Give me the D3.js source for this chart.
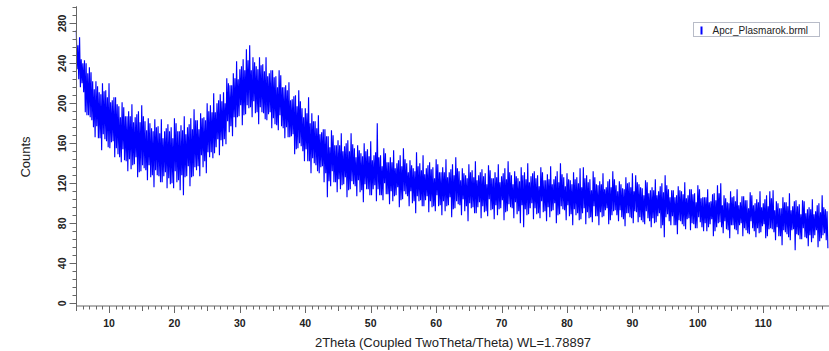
<!DOCTYPE html>
<html>
<head>
<meta charset="utf-8">
<script src="https://cdn.jsdelivr.net/npm/d3@7"></script>
<style>
  body { margin: 0; background: #fff; }
  svg text { font-family: Arial, "Liberation Sans", sans-serif; }
</style>
</head>
<body>
<div id="scan"></div>
<script>
// diffraction scan, 2theta from 5 deg in 0.5 deg steps.
// every step is split in two quarter-degree halves (A, B), each with its max and min counts
var startAngle = 5
var stepAngle = 0.5

var highA = [
  273,266,240,240,236,222,222,211,220,213,
  220,203,206,197,201,187,192,199,186,192,
  198,182,185,175,184,177,184,172,179,176,
  185,172,178,187,176,185,194,183,190,186,
  200,198,210,200,209,211,225,218,230,242,
  234,244,254,258,246,237,246,239,246,230,
  233,227,233,216,218,221,204,208,213,195,
  195,206,190,182,188,171,174,167,173,158,
  163,170,157,163,170,155,158,150,160,154,
  162,148,180,148,155,141,146,153,140,148,
  155,140,143,135,151,140,148,135,141,136,
  144,131,136,144,131,139,146,132,135,128,
  139,133,142,128,134,130,138,125,131,139,
  127,135,142,128,132,125,136,131,140,127,
  132,128,136,123,129,137,124,132,140,126,
  130,123,131,126,135,136,128,124,132,119,
  122,130,116,124,132,118,122,115,126,121,
  130,128,119,115,123,110,116,124,112,120,
  128,114,113,106,117,112,121,108,114,110,
  118,105,106,114,102,110,118,120,108,101,
  112,107,114,101,107,103,111,98,104,112,
  100,108,112,113,102,95,106,101,110,97,
  103,99,103,90,96,104,92,100,108,94
]

var lowA = [
  234,216,211,188,186,176,177,165,169,162,
  155,162,155,146,154,142,144,138,146,131,
  138,133,138,128,133,127,121,131,125,120,
  132,123,128,126,137,126,136,137,148,142,
  151,151,150,164,163,164,182,177,186,186,
  198,188,198,196,202,191,196,190,183,191,
  185,178,188,175,176,166,169,154,160,152,
  154,142,145,138,130,137,130,122,132,121,
  124,118,126,113,122,117,123,113,119,114,
  108,118,114,108,120,109,112,107,116,103,
  112,107,112,102,107,103,97,107,102,97,
  108,98,102,97,106,94,102,98,104,97,
  100,96,90,101,97,92,104,94,98,94,
  103,91,99,95,101,92,98,94,89,100,
  95,90,102,92,96,92,100,88,97,93,
  98,89,94,90,84,95,91,86,97,87,
  91,87,95,83,92,88,93,84,90,86,
  80,91,86,81,92,82,85,81,90,78,
  86,82,87,78,83,79,74,85,80,75,
  86,76,80,76,84,72,80,76,82,73,
  78,74,69,80,75,70,82,72,75,71,
  79,67,75,71,76,67,73,69,63,74,
  69,64,75,65,68,65,73,62,68,63
]

var highB = [
  258,244,243,230,231,214,217,209,212,206,
  201,206,199,186,196,187,187,181,189,181,
  187,173,180,172,176,170,165,175,172,165,
  180,172,173,169,179,174,183,174,185,183,
  192,191,191,203,202,200,220,218,225,224,
  237,233,243,233,241,234,238,232,227,233,
  226,216,228,216,213,203,207,197,202,186,
  190,180,182,175,169,174,167,156,168,158,
  158,152,160,152,159,146,153,147,152,147,
  143,151,146,137,150,141,141,135,143,137,
  144,131,138,132,137,133,129,138,134,125,
  139,131,131,126,134,128,135,123,130,125,
  131,126,123,131,127,119,133,125,126,121,
  130,124,131,119,127,122,128,124,121,130,
  125,117,131,123,124,119,127,121,129,117,
  124,119,124,120,116,125,121,113,126,118,
  119,114,122,116,124,112,119,114,120,116,
  112,121,116,108,121,113,113,108,117,111,
  118,106,113,108,113,109,105,114,109,101,
  114,106,106,101,109,103,110,98,105,100,
  106,102,98,107,103,95,108,100,101,96,
  104,97,105,93,100,95,101,97,93,102,
  97,89,102,94,94,89,98,91,96,92
]

var lowB = [
  224,220,191,188,183,166,165,153,164,156,
  161,146,149,141,143,132,134,139,126,132,
  135,123,126,116,128,121,127,115,119,115,
  121,113,108,127,117,127,133,127,136,130,
  146,145,156,148,157,159,171,167,176,187,
  178,189,195,186,190,179,191,184,189,175,
  179,173,177,165,166,167,149,155,157,142,
  142,130,140,132,136,121,106,117,121,111,
  114,119,106,114,119,107,111,101,114,108,
  114,102,108,103,109,99,102,108,96,104,
  109,97,100,90,102,97,103,91,96,92,
  97,88,92,98,86,95,99,88,92,82,
  95,90,96,85,91,87,93,84,88,95,
  83,92,96,85,89,80,76,88,95,84,
  89,85,91,82,86,93,80,89,94,83,
  87,78,88,83,90,79,85,81,87,78,
  86,93,79,88,93,82,86,77,90,85,
  92,81,83,79,85,76,80,87,75,66,
  89,78,78,69,82,77,84,73,79,75,
  81,72,72,79,67,76,81,70,74,65,
  78,73,78,67,73,69,75,66,70,77,
  65,74,74,63,67,58,71,66,73,53,
  68,64,66,57,61,68,56,65,70,55
]

var xLabels = [10,20,30,40,50,60,70,80,90,100,110]
var yLabels = [0,40,80,120,160,200,240,280]
var seriesName = "Apcr_Plasmarok.brml"
var xTitle = "2Theta (Coupled TwoTheta/Theta) WL=1.78897"
var yTitle = "Counts"

var width = 829
var height = 351

var svg = d3.select("#scan").append("svg")
.attr("width", width)
.attr("height", height)

var x = d3.scaleLinear().domain([5, 120]).range([76.3, 828.7])
var y = d3.scaleLinear().domain([0, 297]).range([303.3, 6.3])

var axisColor = "#666"
var labelColor = "#222"
var blue = "#0000ff"

// trace: up to the max, down to the min, for each quarter-degree half in turn
var points = []
highA.forEach(function(h, i) {
  var a = startAngle + i * stepAngle
  points.push([a, h])
  points.push([a + 0.125, lowA[i]])
  points.push([a + 0.25, highB[i]])
  points.push([a + 0.375, lowB[i]])
})

var line = d3.line()
.x(function(d) { return x(d[0]) })
.y(function(d) { return y(d[1]) })

svg.append("path")
.datum(points)
.attr("d", line)
.attr("fill", "none")
.attr("stroke", blue)
.attr("stroke-width", 1.15)

// x axis, minor ticks every degree
var xAxisY = 306
var gx = svg.append("g").attr("transform", "translate(0," + xAxisY + ")")
gx.append("line")
.attr("x1", x(5)).attr("x2", width)
.attr("stroke", axisColor)

gx.selectAll("line.tick")
.data(d3.range(5, 121, 1))
.enter()
.append("line")
.attr("class", "tick")
.attr("x1", function(d) { return Math.round(x(d)) + 0.5 })
.attr("x2", function(d) { return Math.round(x(d)) + 0.5 })
.attr("y1", 0)
.attr("y2", function(d) {
  if (d % 10 == 0) return 7
  if (d % 5 == 0) return 5
  return 3.5
})
.attr("stroke", axisColor)

gx.selectAll("text")
.data(xLabels)
.enter()
.append("text")
.attr("x", function(d) { return x(d) })
.attr("y", 21)
.attr("text-anchor", "middle")
.attr("font-size", "10.5px")
.attr("font-weight", "bold")
.attr("fill", labelColor)
.text(function(d) { return d })

// y axis, minor ticks every 8 counts
var gy = svg.append("g").attr("transform", "translate(" + 76.5 + ",0)")
gy.append("line")
.attr("y1", y(297)).attr("y2", xAxisY)
.attr("stroke", axisColor)

gy.selectAll("line.tick")
.data(d3.range(0, 297, 8))
.enter()
.append("line")
.attr("class", "tick")
.attr("y1", function(d) { return Math.round(y(d)) + 0.5 })
.attr("y2", function(d) { return Math.round(y(d)) + 0.5 })
.attr("x1", function(d) { return d % 40 == 0 ? -7 : -4 })
.attr("x2", 0)
.attr("stroke", axisColor)

gy.selectAll("text")
.data(yLabels)
.enter()
.append("text")
.attr("transform", function(d) { return "translate(-11," + y(d) + ") rotate(-90)" })
.attr("text-anchor", "middle")
.attr("font-size", "10.5px")
.attr("font-weight", "bold")
.attr("fill", labelColor)
.text(function(d) { return d })

// axis titles
svg.append("text")
.attr("x", 453)
.attr("y", 347)
.attr("text-anchor", "middle")
.attr("font-size", "13px")
.attr("fill", labelColor)
.text(xTitle)

svg.append("text")
.attr("transform", "translate(30,157) rotate(-90)")
.attr("text-anchor", "middle")
.attr("font-size", "13px")
.attr("fill", labelColor)
.text(yTitle)

// legend
var legend = svg.append("g").attr("transform", "translate(693.5,22.5)")
legend.append("rect")
.attr("width", 126)
.attr("height", 14)
.attr("fill", "#fff")
.attr("stroke", "#b8bcc8")

legend.append("rect")
.attr("x", 7)
.attr("y", 4)
.attr("width", 2)
.attr("height", 8)
.attr("fill", blue)

legend.append("text")
.attr("x", 19)
.attr("y", 11)
.attr("font-size", "10px")
.attr("fill", labelColor)
.text(seriesName)
</script>
</body>
</html>
